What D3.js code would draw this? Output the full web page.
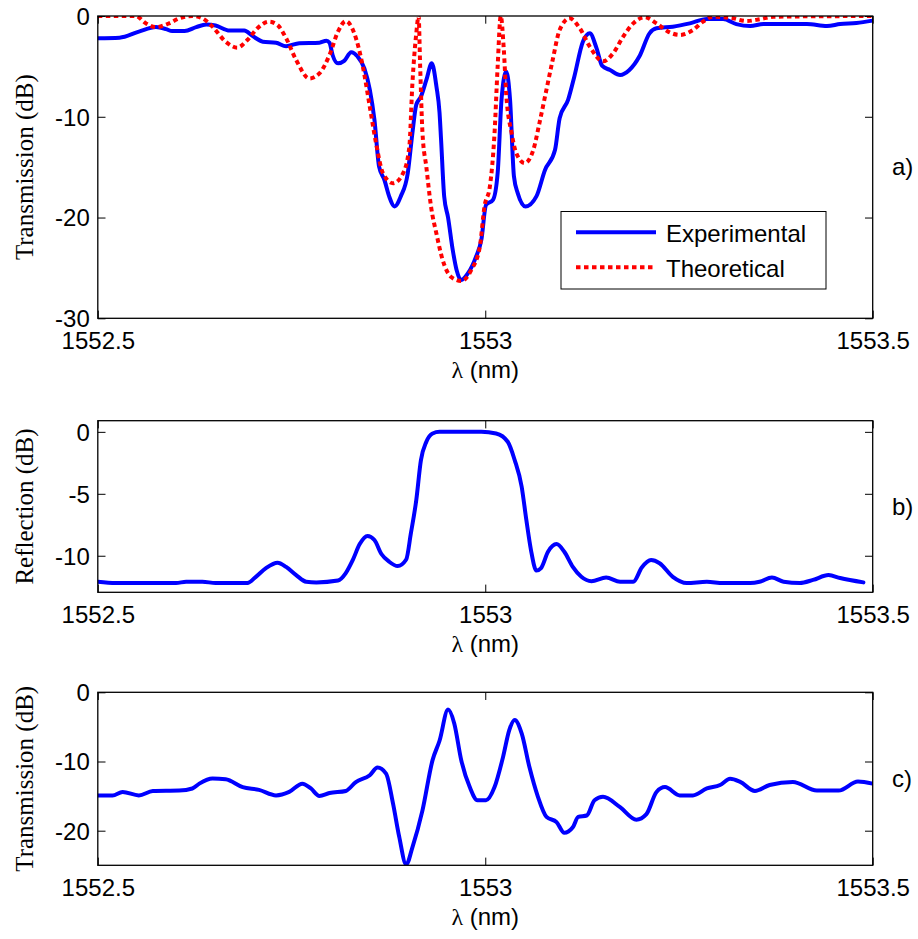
<!DOCTYPE html>
<html>
<head>
<meta charset="utf-8">
<script src="https://cdn.jsdelivr.net/npm/d3@7"></script>
<style>
  html, body { margin: 0; padding: 0; background: #fff; }
  svg { display: block; }
</style>
</head>
<body>
<svg id="fig" width="918" height="939"></svg>
<script>
// ---- wavelength axis (nm) shared by all three panels ----
const wlDomain = [1552.5, 1553.5];
const wlTicks = [1552.5, 1553, 1553.5];

// ---- (a) transmission: measured spectrum ----
const wlExpA = [1552.500,1552.528,1552.553,1552.575,1552.588,1552.596,1552.612,1552.627,1552.640,1552.652,
  1552.670,1552.689,1552.700,1552.713,1552.730,1552.743,1552.760,1552.786,1552.795,1552.799,
  1552.803,1552.810,1552.818,1552.827,1552.835,1552.844,1552.851,1552.857,1552.863,1552.870,
  1552.876,1552.883,1552.891,1552.900,1552.906,1552.911,1552.917,1552.924,1552.931,1552.937,
  1552.941,1552.943,1552.947,1552.952,1552.958,1552.963,1552.969,1552.978,1552.988,1552.995,
  1553.001,1553.010,1553.016,1553.021,1553.027,1553.032,1553.037,1553.042,1553.052,1553.066,
  1553.077,1553.090,1553.096,1553.107,1553.115,1553.126,1553.135,1553.143,1553.151,1553.161,
  1553.174,1553.186,1553.199,1553.212,1553.221,1553.242,1553.264,1553.286,1553.307,1553.324,
  1553.342,1553.359,1553.415,1553.441,1553.458,1553.479,1553.500];
const transExpA = [-2.2,-2.15,-1.55,-1.1,-1.3,-1.5,-1.5,-1.1,-0.85,-0.95,
  -1.45,-1.45,-2.0,-2.55,-2.65,-3.0,-2.7,-2.65,-2.45,-2.65,
  -3.87,-4.7,-4.46,-3.6,-4.0,-5.2,-7.3,-10.3,-14.95,-16.3,
  -17.9,-18.9,-17.9,-15.6,-11.6,-8.8,-8.0,-6.35,-4.7,-7.0,
  -9.6,-12.3,-17.9,-20.0,-23.2,-25.2,-26.2,-25.5,-23.9,-22.2,
  -18.75,-18.25,-15.6,-8.3,-5.5,-8.3,-15.9,-17.6,-18.9,-17.9,
  -15.3,-13.3,-10.15,-8.3,-6.0,-2.55,-1.72,-3.05,-4.96,-5.36,
  -5.85,-5.36,-4.0,-1.72,-1.22,-1.06,-0.73,-0.3,-0.3,-0.8,
  -1.0,-0.8,-0.8,-1.0,-0.8,-0.7,-0.46];

// ---- (a) transmission: model ----
const wlTheoA = [1552.500,1552.549,1552.562,1552.575,1552.592,1552.605,1552.622,1552.635,1552.648,1552.665,
  1552.680,1552.693,1552.706,1552.721,1552.732,1552.743,1552.756,1552.773,1552.786,1552.799,
  1552.810,1552.820,1552.831,1552.842,1552.851,1552.859,1552.868,1552.881,1552.894,1552.902,
  1552.906,1552.911,1552.914,1552.916,1552.919,1552.924,1552.930,1552.937,1552.945,1552.956,
  1552.969,1552.982,1552.993,1552.999,1553.006,1553.012,1553.016,1553.020,1553.024,1553.027,
  1553.034,1553.040,1553.051,1553.062,1553.070,1553.079,1553.087,1553.096,1553.109,1553.122,
  1553.135,1553.152,1553.165,1553.178,1553.191,1553.206,1553.221,1553.236,1553.251,1553.268,
  1553.281,1553.294,1553.320,1553.337,1553.354,1553.372,1553.500];
const transTheoA = [0,0,-0.73,-1.1,-0.73,-0.23,0,-0.23,-1.06,-2.55,
  -3.14,-2.38,-1.22,-0.56,-0.9,-2.2,-4.37,-6.2,-5.7,-3.87,
  -1.55,-0.5,-1.72,-5.0,-9.0,-12.6,-15.6,-16.6,-15.6,-13.0,
  -6.7,-1.72,0,-5.0,-11.6,-15.0,-18.9,-21.6,-24.2,-25.9,
  -26.3,-25.2,-22.9,-18.9,-16.9,-11.6,-5.0,0,-3.4,-7.7,
  -11.6,-13.6,-14.6,-13.3,-10.6,-7.3,-4.37,-1.39,-0.23,-1.22,
  -3.05,-4.5,-3.7,-2.05,-0.73,-0.13,-0.73,-1.55,-1.88,-1.39,
  -0.56,-0.07,-0.23,-0.5,-0.33,-0.07,0];

// ---- (b) reflection ----
const wlReflB = [1552.500,1552.523,1552.566,1552.601,1552.614,1552.635,1552.652,1552.693,1552.704,1552.717,
  1552.732,1552.743,1552.756,1552.769,1552.782,1552.810,1552.820,1552.829,1552.838,1552.848,
  1552.857,1552.866,1552.876,1552.887,1552.898,1552.904,1552.911,1552.917,1552.924,1552.932,
  1552.941,1552.995,1553.014,1553.029,1553.038,1553.047,1553.053,1553.059,1553.066,1553.072,
  1553.081,1553.092,1553.102,1553.113,1553.124,1553.137,1553.156,1553.174,1553.191,1553.202,
  1553.214,1553.225,1553.242,1553.260,1553.286,1553.307,1553.342,1553.354,1553.370,1553.385,
  1553.406,1553.423,1553.443,1553.458,1553.488];
const reflB = [-12.1,-12.2,-12.2,-12.2,-12.1,-12.1,-12.2,-12.2,-11.7,-11.0,
  -10.56,-10.9,-11.56,-12.1,-12.15,-12.0,-11.4,-10.35,-9.06,-8.4,
  -8.73,-9.86,-10.48,-10.83,-10.3,-8.2,-5.5,-2.28,-0.8,-0.13,
  0,0,-0.13,-0.8,-2.28,-4.43,-7.1,-9.54,-11.2,-11.0,
  -9.68,-9.06,-9.68,-10.9,-11.7,-12.05,-11.75,-12.1,-12.1,-10.95,
  -10.35,-10.6,-11.7,-12.2,-12.1,-12.2,-12.2,-12.1,-11.75,-12.1,
  -12.2,-11.95,-11.56,-11.8,-12.15];

// ---- (c) transmission ----
const wlTransC = [1552.500,1552.519,1552.532,1552.553,1552.571,1552.605,1552.622,1552.631,1552.648,1552.665,
  1552.687,1552.708,1552.730,1552.747,1552.764,1552.775,1552.786,1552.799,1552.820,1552.833,
  1552.851,1552.861,1552.872,1552.881,1552.889,1552.898,1552.906,1552.919,1552.932,1552.941,
  1552.952,1552.960,1552.969,1552.980,1552.990,1553.001,1553.012,1553.023,1553.031,1553.038,
  1553.047,1553.057,1553.068,1553.079,1553.092,1553.102,1553.113,1553.120,1553.131,1553.141,
  1553.152,1553.174,1553.195,1553.208,1553.221,1553.232,1553.251,1553.268,1553.286,1553.303,
  1553.316,1553.329,1553.348,1553.367,1553.397,1553.428,1553.456,1553.481,1553.500];
const transC = [-14.9,-14.9,-14.4,-14.9,-14.26,-14.2,-13.9,-13.2,-12.46,-12.56,
  -13.7,-14.1,-14.9,-14.4,-13.2,-13.9,-14.98,-14.55,-14.26,-12.97,
  -11.99,-10.87,-11.74,-16.1,-20.9,-24.9,-22.4,-17.06,-9.8,-7.0,
  -2.5,-4.5,-9.8,-13.7,-15.6,-15.6,-13.7,-9.33,-5.46,-4.0,
  -5.94,-10.8,-15.1,-18.0,-18.75,-20.3,-19.5,-18.0,-17.8,-15.6,
  -15.1,-16.6,-18.4,-17.6,-14.4,-13.7,-14.9,-14.9,-13.9,-13.4,
  -12.5,-12.95,-14.26,-13.4,-12.95,-14.2,-14.2,-12.9,-13.2];

// ---- axis labels, ticks, legend ----
const yTicksA = [0, -10, -20, -30];
const yTicksB = [0, -5, -10];
const yTicksC = [0, -10, -20];
const legendLabels = ["Experimental", "Theoretical"];

const svg = d3.select("#fig");
const SANS = "'Liberation Sans', Arial, Helvetica, sans-serif";
const SERIF = "'Liberation Serif', 'Times New Roman', Times, serif";
const BLUE = "#0000ff", RED = "#ff0000";
const left = 97.8, right = 872.7, tickLen = 7.7;
const plainNum = d => String(d);   // hyphen-minus, as in the printed labels

const zip = (xs, ys) => xs.map((x, i) => [x, ys[i]]);

function panel(cfg) {
  const x = d3.scaleLinear().domain(wlDomain).range([left, right]);
  const y = d3.scaleLinear().domain(cfg.yDomain).range([cfg.bottom, cfg.top]);
  const g = svg.append("g");
  const clipId = "clip-" + cfg.id;
  svg.append("defs").append("clipPath").attr("id", clipId)
    .append("rect").attr("x", left).attr("y", cfg.top)
    .attr("width", right - left).attr("height", cfg.bottom - cfg.top);

  const line = d3.line().x(d => x(d[0])).y(d => y(d[1])).curve(d3.curveMonotoneX);
  const plot = g.append("g").attr("clip-path", `url(#${clipId})`);
  cfg.series.forEach(s => {
    plot.append("path").datum(s.data)
      .attr("d", line)
      .attr("fill", "none")
      .attr("stroke", s.color)
      .attr("stroke-width", 4)
      .attr("stroke-linejoin", "round")
      .attr("stroke-linecap", s.dash ? "butt" : "round")
      .attr("stroke-dasharray", s.dash || null);
  });

  // inward ticks on all four sides
  const bottomAx = g.append("g").attr("transform", `translate(0,${cfg.bottom})`)
    .call(d3.axisBottom(x).tickValues(wlTicks).tickSizeInner(-tickLen).tickSizeOuter(0).tickFormat(plainNum));
  const topAx = g.append("g").attr("transform", `translate(0,${cfg.top})`)
    .call(d3.axisTop(x).tickValues(wlTicks).tickSizeInner(-tickLen).tickSizeOuter(0).tickFormat(""));
  const leftAx = g.append("g").attr("transform", `translate(${left},0)`)
    .call(d3.axisLeft(y).tickValues(cfg.yTicks).tickSizeInner(-tickLen).tickSizeOuter(0).tickFormat(plainNum));
  const rightAx = g.append("g").attr("transform", `translate(${right},0)`)
    .call(d3.axisRight(y).tickValues(cfg.yTicks).tickSizeInner(-tickLen).tickSizeOuter(0).tickFormat(""));
  [bottomAx, topAx, leftAx, rightAx].forEach(a => {
    a.selectAll("path.domain").remove();
    a.selectAll("line").attr("stroke", "#000").attr("stroke-width", 1);
  });
  bottomAx.selectAll("text")
    .attr("font-family", SANS).attr("font-size", 24).attr("fill", "#000")
    .attr("y", 31).attr("dy", 0);
  leftAx.selectAll("text")
    .attr("font-family", SANS).attr("font-size", 24).attr("fill", "#000")
    .attr("x", -8).attr("dy", "0.35em");

  // box
  g.append("rect").attr("x", left).attr("y", cfg.top)
    .attr("width", right - left).attr("height", cfg.bottom - cfg.top)
    .attr("fill", "none").attr("stroke", "#000").attr("stroke-width", 1.3);

  // x label
  const xl = g.append("text").attr("x", (left + right) / 2).attr("y", cfg.bottom + 60)
    .attr("text-anchor", "middle").attr("font-size", 24).attr("fill", "#000");
  xl.append("tspan").attr("font-family", SERIF).text("λ");
  xl.append("tspan").attr("font-family", SANS).text(" (nm)");

  // y label
  const cy = (cfg.top + cfg.bottom) / 2;
  g.append("text").attr("transform", `translate(33,${cy}) rotate(-90)`)
    .attr("text-anchor", "middle").attr("font-family", SERIF).attr("font-size", 25)
    .attr("fill", "#000").text(cfg.yLabel);

  // panel tag
  g.append("text").attr("x", 892).attr("y", cy + 8)
    .attr("font-family", SANS).attr("font-size", 24).attr("fill", "#000").text(cfg.tag);

  return { g, x, y };
}

panel({
  id: "a", top: 16, bottom: 318.3, yDomain: [-30, 0], yTicks: yTicksA,
  yLabel: "Transmission (dB)", tag: "a)",
  series: [
    { data: zip(wlExpA, transExpA), color: BLUE },
    { data: zip(wlTheoA, transTheoA), color: RED, dash: "4.5,3.5" }
  ]
});

panel({
  id: "b", top: 420.7, bottom: 592.3, yDomain: [-12.95, 0.9], yTicks: yTicksB,
  yLabel: "Reflection (dB)", tag: "b)",
  series: [{ data: zip(wlReflB, reflB), color: BLUE }]
});

panel({
  id: "c", top: 692.3, bottom: 865.3, yDomain: [-25, 0], yTicks: yTicksC,
  yLabel: "Transmission (dB)", tag: "c)",
  series: [{ data: zip(wlTransC, transC), color: BLUE }]
});

// legend for panel (a)
const lg = svg.append("g");
lg.append("rect").attr("x", 561).attr("y", 211.5).attr("width", 265).attr("height", 77.5)
  .attr("fill", "#fff").attr("stroke", "#000").attr("stroke-width", 1);
const legendStyles = [{ color: BLUE, dash: null }, { color: RED, dash: "4.5,3.5" }];
legendLabels.forEach((lab, i) => {
  const yy = 232.3 + i * 35;
  lg.append("line").attr("x1", 576).attr("x2", 656).attr("y1", yy).attr("y2", yy)
    .attr("stroke", legendStyles[i].color).attr("stroke-width", 4)
    .attr("stroke-dasharray", legendStyles[i].dash);
  lg.append("text").attr("x", 666).attr("y", yy + 9.5)
    .attr("font-family", SANS).attr("font-size", 24).attr("fill", "#000").text(lab);
});
</script>
</body>
</html>
